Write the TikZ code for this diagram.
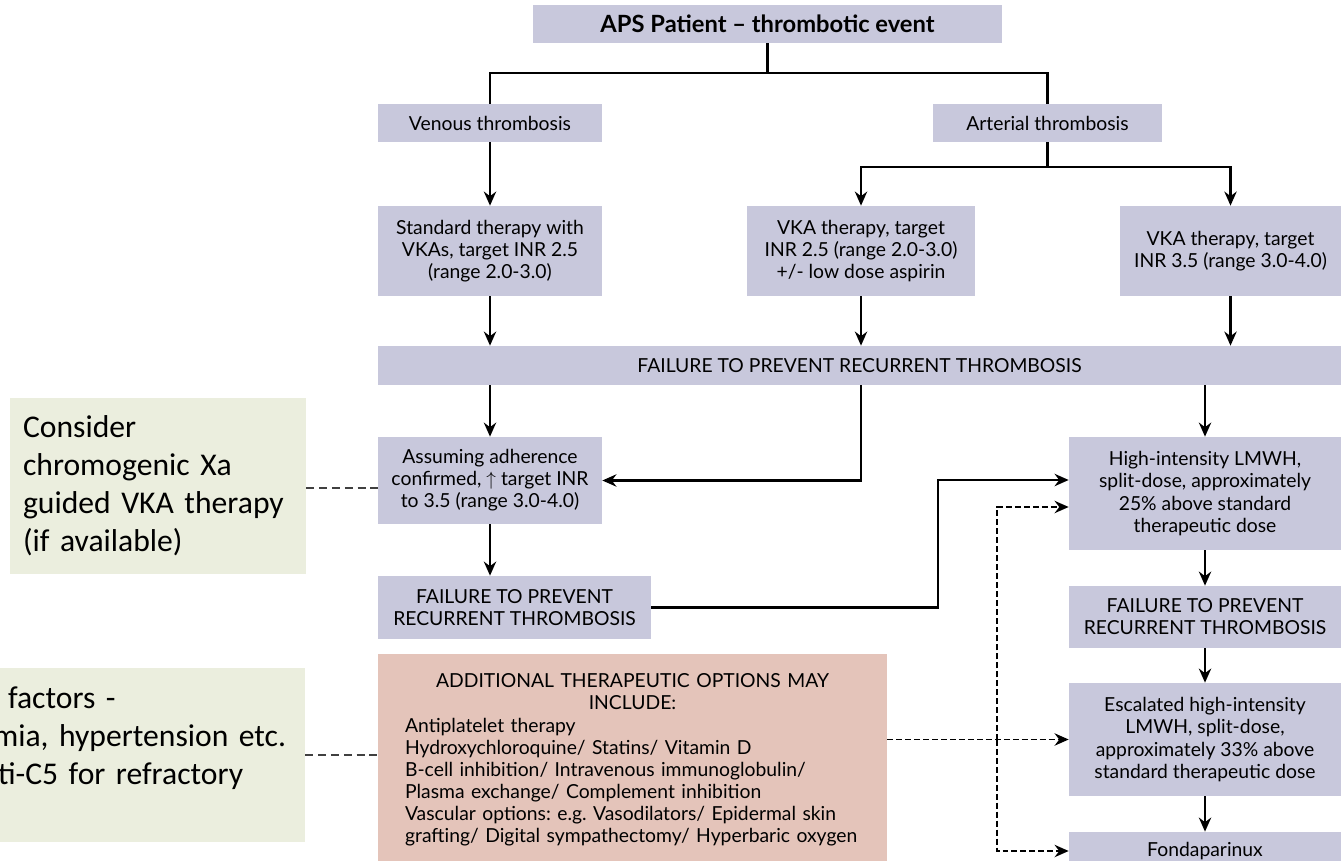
\documentclass[tikz,border=0pt]{standalone}
\usepackage{fontspec}
\setmainfont{Lato}
\newfontfamily\notefont{Carlito}
\usetikzlibrary{arrows.meta}
\definecolor{boitebleu}{RGB}{200,200,220}
\definecolor{boiterose}{RGB}{228,196,186}
\definecolor{boitevert}{RGB}{235,238,222}
\frenchspacing

\begin{document}
\begin{tikzpicture}[x=0.02cm, y=-0.02cm]
\tikzset{boite/.style={fill=boitebleu, align=center, inner sep=0pt, font=\fontsize{11}{12.6}\selectfont},
  note/.style={fill=boitevert, align=left, inner ysep=0pt, font=\notefont\fontsize{18}{21.6}\selectfont},
  trait/.style={line width=1.3pt},
  fleche/.style={line width=1.3pt, -{Stealth[length=8pt, width=7pt]}},
  tirets/.style={line width=1.1pt, dash pattern=on 3.4pt off 1.7pt, -{Stealth[length=8pt, width=7pt]}},
  pointille/.style={line width=1.1pt, black!75, dash pattern=on 4.5pt off 2.8pt}}
\clip (0, 0) rectangle (1341, 861);
\fill[white] (0, 0) rectangle (1341, 861);
\node[boite, minimum width=9.38cm, minimum height=0.76cm, font=\bfseries\fontsize{13.5}{15}\selectfont] (T) at (767.5, 24) {APS Patient – thrombotic event};
\node[boite, minimum width=4.48cm, minimum height=0.76cm] (VEN) at (490, 123) {Venous thrombosis};
\node[boite, minimum width=4.58cm, minimum height=0.76cm] (ART) at (1047.5, 123) {Arterial thrombosis};
\node[boite, minimum width=4.48cm, minimum height=1.8cm] (STD) at (490, 251) {Standard therapy with\\VKAs, target INR 2.5\\(range 2.0-3.0)};
\node[boite, minimum width=4.56cm, minimum height=1.8cm] (VKA1) at (861, 251) {VKA therapy, target\\INR 2.5 (range 2.0-3.0)\\+/- low dose aspirin};
\node[boite, minimum width=4.42cm, minimum height=1.8cm] (VKA2) at (1230.5, 251) {VKA therapy, target\\INR 3.5 (range 3.0-4.0)};
\node[boite, minimum width=19.26cm, minimum height=0.78cm] (F1) at (859.5, 365.5) {FAILURE TO PREVENT RECURRENT THROMBOSIS};
\node[boite, minimum width=4.48cm, minimum height=1.74cm] (ADH) at (490, 480.5) {Assuming adherence\\confirmed, $\uparrow$ target INR\\to 3.5 (range 3.0-4.0)};
\node[boite, minimum width=5.46cm, minimum height=1.26cm] (F2) at (514.5, 607.5) {FAILURE TO PREVENT\\RECURRENT THROMBOSIS};
\node[boite, minimum width=5.44cm, minimum height=2.26cm] (HI) at (1205, 493.5) {High-intensity LMWH,\\split-dose, approximately\\25\% above standard\\therapeutic dose};
\node[boite, minimum width=5.44cm, minimum height=1.24cm] (F3) at (1205, 617) {FAILURE TO PREVENT\\RECURRENT THROMBOSIS};
\node[boite, minimum width=5.44cm, minimum height=2.26cm] (ESC) at (1205, 739.5) {Escalated high-intensity\\LMWH, split-dose,\\approximately 33\% above\\standard therapeutic dose};
\node[boite, minimum width=5.44cm, minimum height=0.76cm] (FON) at (1205, 851) {Fondaparinux};
\node[boite, fill=boiterose, align=left, text width=9.1cm, inner xsep=0.54cm, minimum height=4.24cm] (OPT) at (632.5, 760) {{\centering ADDITIONAL THERAPEUTIC OPTIONS MAY\\INCLUDE:\par}Antiplatelet therapy\\Hydroxychloroquine/ Statins/ Vitamin D\\B-cell inhibition/ Intravenous immunoglobulin/\\Plasma exchange/ Complement inhibition\\Vascular options: e.g. Vasodilators/ Epidermal skin\\grafting/ Digital sympathectomy/ Hyperbaric oxygen};
\node[note, text width=5.4cm, inner xsep=0.26cm, minimum height=3.52cm] (N1) at (158, 486) {Consider\\chromogenic Xa\\guided VKA therapy\\(if available)};
\node[note, text width=5.9cm, inner xsep=0.3cm, minimum height=3.48cm] (N2) at (142.5, 755) {\hspace*{0.26cm}factors -\\\hspace*{-0.04cm}mia, hypertension etc.\\\hspace*{0.06cm}ti-C5 for refractory\\\mbox{}};
\coordinate (A1) at (767.5, 73);
\coordinate (A2) at (1047.5, 167);
\coordinate (C1) at (938, 480);
\coordinate (C2) at (997, 740);
\draw[trait] (T.south) -- (A1);
\draw[trait] (VEN.north) |- (A1) -| (ART.north);
\draw[fleche] (VEN) -- (STD);
\draw[trait] (ART) -- (A2);
\draw[fleche] (A2) -| (VKA1.north);
\draw[fleche] (A2) -| (VKA2.north);
\draw[fleche] (STD) -- (STD |- F1.north);
\draw[fleche] (VKA1) -- (VKA1 |- F1.north);
\draw[fleche] (VKA2) -- (VKA2 |- F1.north);
\draw[fleche] (F1.south -| ADH) -- (ADH);
\draw[fleche] (F1.south -| VKA1) |- (ADH.east);
\draw[fleche] (F1.south -| HI) -- (HI);
\draw[fleche] (ADH.south) -- (ADH.south |- F2.north);
\draw[fleche] (F2.east) -| (C1) -- (HI.west |- C1);
\draw[fleche] (HI) -- (F3);
\draw[fleche] (F3) -- (ESC);
\draw[fleche] (ESC) -- (FON);
\draw[tirets] (OPT.east |- ESC.west) -- (ESC.west);
\draw[tirets] (C2) |- (HI.west |- 0, 507);
\draw[tirets] (C2) |- (FON.west);
\draw[pointille] (N1.east |- 0, 488) -- (ADH.west |- 0, 488);
\draw[pointille] (N2.east) -- (N2.east -| OPT.west);
\end{tikzpicture}
\end{document}
